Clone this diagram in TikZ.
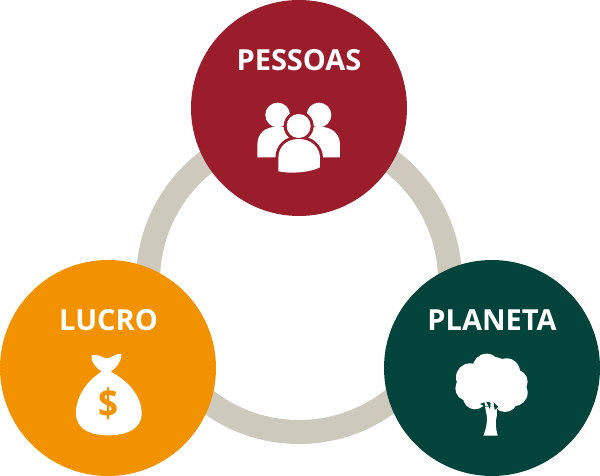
\documentclass[tikz,border=0pt]{standalone}
\usepackage{fontspec}
\setmainfont{Open Sans}
\definecolor{ringc}{HTML}{CEC9BD}
\definecolor{redc}{HTML}{9B1C2A}
\definecolor{orangec}{HTML}{F39200}
\definecolor{greenc}{HTML}{02433B}
\tikzset{
  disc/.style={circle,minimum size=216pt,inner sep=0pt,outer sep=0pt},
  lab/.style={text=white,font=\fontsize{29}{29}\selectfont\bfseries,inner sep=0pt},
  zoomA/.style={shift={(240,30)},x=0.3333pt,y=-0.3333pt},
  zoomB/.style={shift={(50,300)},x=0.3333pt,y=-0.3333pt},
  zoomC/.style={shift={(425,300)},x=0.3333pt,y=-0.3333pt}
}
\begin{document}
\begin{tikzpicture}[x=1pt,y=-1pt]
\useasboundingbox (0,0) rectangle (600,476);
\node[circle,draw=ringc,line width=24pt,minimum size=302pt,inner sep=0pt,outer sep=0pt] (ring) at (299,281) {};
\node[disc,fill=redc] (pessoas) at (299,108) {};
\node[disc,fill=orangec] (lucro) at (108,368) {};
\node[disc,fill=greenc] (planeta) at (492,368) {};
\node[lab] (tp) at (299,60) {PESSOAS};
\node[lab] (tl) at (108.500,320) {LUCRO};
\node[lab] (tg) at (492,320) {PLANETA};
% people
\begin{scope}[zoomA]
\fill[white] (113,255) circle (37);
\fill[white] (237,255) circle (37);
\fill[white] (52,382) -- (52,345) .. controls (52,310) and (75,290) .. (113,290) .. controls (150,290) and (176,310) .. (176,345) -- (176,382) -- cycle;
\fill[white] (300,382) -- (300,345) .. controls (300,310) and (275,290) .. (237,290) .. controls (200,290) and (176,310) .. (176,345) -- (176,382) -- cycle;
\fill[redc] (176,288) circle (45);
\fill[redc] (106,435) -- (106,385) .. controls (106,345) and (135,318) .. (176,318) .. controls (217,318) and (249,345) .. (249,385) -- (249,435) -- cycle;
\fill[white] (176,288) circle (36);
\fill[white] (115,424) -- (115,385) .. controls (115,350) and (140,327) .. (176,327) .. controls (212,327) and (240,350) .. (240,385) -- (240,412) .. controls (210,428) and (150,432) .. (115,424) -- cycle;
\end{scope}
% bag
\begin{scope}[zoomB]
\fill[white] (155,215) .. controls (140,205) and (120,185) .. (125,166) .. controls (145,160) and (158,175) .. (170,175) .. controls (185,175) and (198,158) .. (214,162) .. controls (215,185) and (198,205) .. (182,215) .. controls (230,240) and (275,285) .. (275,340) .. controls (275,390) and (225,406) .. (175,406) .. controls (125,406) and (78,390) .. (78,340) .. controls (78,285) and (115,240) .. (155,215) -- cycle;
\node[text=orangec,font=\fontsize{39}{39}\selectfont\bfseries,inner sep=0pt,xscale=0.9] (dollar) at (175,313) {\$};
\end{scope}
% tree
\begin{scope}[zoomC]
\fill[white] (200,245) circle (75) (185,203) circle (42) (245,215) circle (40) (135,232) circle (42) (272,245) circle (36) (128,265) circle (37) (268,278) circle (40) (150,292) circle (36) (240,298) circle (38);
\fill[white] (175,407) -- (218,407) .. controls (212,385) and (210,365) .. (216,345) -- (216,320) -- (180,320) -- (186,350) .. controls (187,370) and (182,390) .. (175,407) -- cycle;
\fill[greenc] (165,312) -- (178,307) -- (181,320) -- cycle;
\fill[greenc] (184,305) -- (197,308) -- (195,328) -- cycle;
\fill[greenc] (206,307) -- (220,321) -- (209,330) -- cycle;
\end{scope}
\end{tikzpicture}
\end{document}
